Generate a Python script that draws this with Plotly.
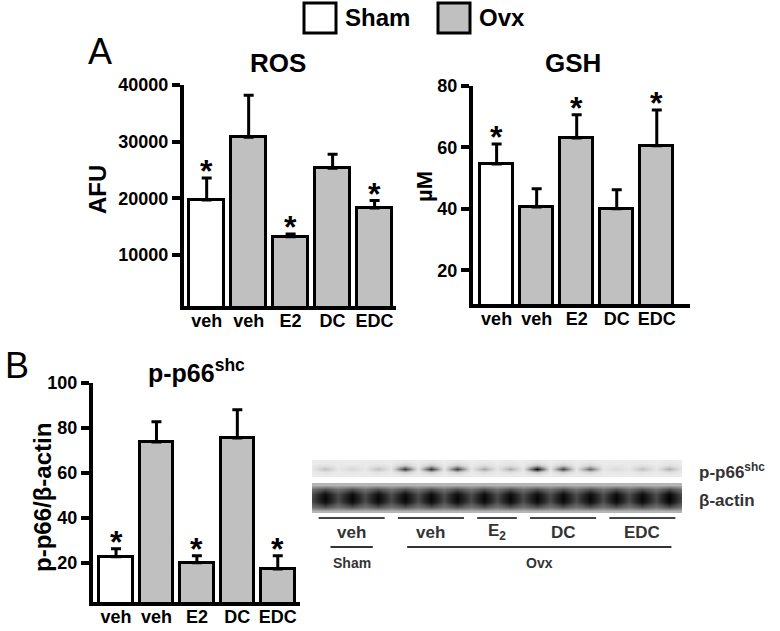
import plotly.graph_objects as go

FONT = "Liberation Sans, Arial, sans-serif"
GREY = "#c0c0c0"

groups = ["veh", "veh", "E2", "DC", "EDC"]
fills = ["white", GREY, GREY, GREY, GREY]

ros = [19700, 30800, 13200, 25300, 18300]
ros_err = [3900, 7400, 500, 2500, 1300]
ros_sig = [True, False, True, False, True]

gsh = [54.6, 40.6, 63.1, 40.0, 60.5]
gsh_err = [6.5, 5.9, 7.5, 6.2, 11.7]
gsh_sig = [True, False, True, False, True]

p66 = [22.8, 73.8, 20.1, 75.6, 17.4]
p66_err = [3.6, 9.0, 3.2, 12.5, 5.9]
p66_sig = [True, False, True, False, True]

# western blot, lane band darkness (0 white .. 1 black)
blot_groups = ["veh", "veh", "E<sub>2</sub>", "DC", "EDC"]
blot_lanes = [3, 3, 2, 3, 3]
p66_bands = [0.36, 0.26, 0.36, 0.82, 0.85, 0.80, 0.46, 0.44, 0.97, 0.78, 0.66, 0.24, 0.36, 0.42]
actin_bands = [0.98, 0.98, 0.98, 0.98, 0.98, 0.98, 0.98, 0.98, 0.98, 0.98, 0.98, 0.98, 0.98, 1.0]

W, H = 780, 631


def fx(p):
    return p / W


def fy(p):
    return 1 - p / H


fig = go.Figure()


def bar_panel(vals, errs, sig, xa, ya):
    x = list(range(len(vals)))
    fig.add_trace(go.Bar(
        x=x, y=vals, width=0.83, base=0,
        marker=dict(color=fills, line=dict(color="black", width=3)),
        error_y=dict(type="data", array=errs, arrayminus=[0] * len(errs),
                     symmetric=False, color="black", thickness=3, width=5),
        xaxis=xa, yaxis=ya, showlegend=False, hoverinfo="y"
    ))
    for i, s in enumerate(sig):
        if s:
            fig.add_annotation(x=i, y=vals[i] + errs[i], text="<b>*</b>",
                               xref=xa, yref=ya, showarrow=False,
                               yanchor="bottom", yshift=-13,
                               font=dict(size=32, color="black", family=FONT))


bar_panel(ros, ros_err, ros_sig, "x", "y")
bar_panel(gsh, gsh_err, gsh_sig, "x2", "y2")
bar_panel(p66, p66_err, p66_sig, "x3", "y3")

# blot strips drawn as smoothed heatmaps
n = len(p66_bands)
bx = [i * 0.5 - 0.5 for i in range(2 * n + 1)]


def strip(bands, bg, gap, rows):
    z = []
    for r in rows:
        row = []
        for k in range(2 * n + 1):
            if k % 2 == 1:
                row.append(bg + (bands[k // 2] - bg) * r)
            else:
                row.append(bg + (gap - bg) * r)
        z.append(row)
    return z


p66_rows = [0.05, 0.25, 1, 0.25, 0.05]
actin_rows = [0, 0.6, 0.95, 1, 0.95, 0.6, 0]

fig.add_trace(go.Heatmap(
    x=bx, y=list(range(len(p66_rows))),
    z=strip(p66_bands, 0.15, 0.18, p66_rows),
    colorscale="Greys", zmin=0, zmax=1, zsmooth="best", showscale=False,
    xaxis="x4", yaxis="y4", hoverinfo="skip"
))
fig.add_trace(go.Heatmap(
    x=bx, y=list(range(len(actin_rows))),
    z=strip(actin_bands, 0.4, 0.78, actin_rows),
    colorscale="Greys", zmin=0, zmax=1, zsmooth="best", showscale=False,
    xaxis="x4", yaxis="y5", hoverinfo="skip"
))

bar_x = dict(showgrid=False, zeroline=False, showline=True, linecolor="black",
             linewidth=4, ticks="", tickmode="array", automargin=False,
             ticklabelstandoff=-5,
             tickvals=list(range(len(groups))), ticktext=["<b>%s</b>" % g for g in groups],
             tickfont=dict(size=18, color="black", family=FONT), fixedrange=True)
bar_y = dict(showgrid=False, zeroline=False, showline=True, linecolor="black",
             linewidth=4, ticks="outside", ticklen=8, tickwidth=4, tickcolor="black",
             automargin=False,
             tickfont=dict(size=18, color="black", family=FONT), fixedrange=True)
hidden = dict(visible=False, fixedrange=True, automargin=False)

fig.update_layout(
    template="none",
    width=W, height=H,
    margin=dict(l=0, r=0, t=0, b=0),
    paper_bgcolor="white", plot_bgcolor="white",
    font=dict(family=FONT, color="black"),
    showlegend=False,
    bargap=0,
    xaxis=dict(bar_x, domain=[fx(184), fx(396)], range=[-0.54, 4.51], anchor="y"),
    yaxis=dict(bar_y, domain=[fy(306), fy(85)], range=[1000, 40000], anchor="x",
               tickvals=[10000, 20000, 30000, 40000],
               ticktext=["<b>10000</b>", "<b>20000</b>", "<b>30000</b>", "<b>40000</b>"]),
    xaxis2=dict(bar_x, domain=[fx(473), fx(690)], range=[-0.59, 4.83], anchor="y2"),
    yaxis2=dict(bar_y, domain=[fy(304), fy(86)], range=[9, 80], anchor="x2",
                tickvals=[20, 40, 60, 80], ticktext=["<b>%d</b>" % v for v in [20, 40, 60, 80]]),
    xaxis3=dict(bar_x, domain=[fx(93), fx(300)], range=[-0.57, 4.55], anchor="y3"),
    yaxis3=dict(bar_y, domain=[fy(602), fy(383)], range=[2.7, 100], anchor="x3",
                tickvals=[20, 40, 60, 80, 100], ticktext=["<b>%d</b>" % v for v in [20, 40, 60, 80, 100]]),
    xaxis4=dict(hidden, domain=[fx(312), fx(682)], range=[-0.5, 13.5], anchor="y4"),
    yaxis4=dict(hidden, domain=[fy(477), fy(460)], range=[-0.5, len(p66_rows) - 0.5], anchor="x4"),
    yaxis5=dict(hidden, domain=[fy(513), fy(483)], range=[-0.5, len(actin_rows) - 0.5], anchor="x4"),
)


# panel labels and titles
def text(x, y, t, size, bold=True, angle=0, color="black", xanchor="center"):
    fig.add_annotation(x=fx(x), y=fy(y), xref="paper", yref="paper",
                       text="<b>%s</b>" % t if bold else t, showarrow=False,
                       textangle=angle, xanchor=xanchor, yanchor="middle",
                       font=dict(size=size, color=color, family=FONT))


text(100, 52, "A", 36, bold=False)
text(17, 366, "B", 36, bold=False)
text(278, 63, "ROS", 26)
text(573, 63, "GSH", 26)
text(196, 371, "p-p66<sup>shc</sup>", 25)
text(97, 190, "AFU", 24, angle=-90)
text(424, 186, "µM", 22, angle=-90)
text(42, 498, "p-p66/β-actin", 24, angle=-90)

# legend boxes
for x0, fill, label in [(304, "white", "Sham"), (438, GREY, "Ovx")]:
    fig.add_shape(type="rect", xref="paper", yref="paper",
                  x0=fx(x0), x1=fx(x0 + 32), y0=fy(33), y1=fy(3),
                  fillcolor=fill, line=dict(color="black", width=3))
    text(x0 + 39, 18, label, 24, xanchor="left")

# blot labels
text(697, 471, "p-p66<sup>shc</sup>", 17, color="#333", xanchor="left")
text(697, 500, "β-actin", 17, color="#333", xanchor="left")

start = 0
for g, k in zip(blot_groups, blot_lanes):
    fig.add_shape(type="line", xref="x4", yref="paper",
                  x0=start - 0.5 + 0.25, x1=start + k - 0.5 - 0.25,
                  y0=fy(518), y1=fy(518),
                  line=dict(color="#444", width=2))
    fig.add_annotation(x=start + (k - 1) / 2, y=fy(532), xref="x4", yref="paper",
                       text="<b>%s</b>" % g, showarrow=False, yanchor="middle",
                       font=dict(size=17, color="#333", family=FONT))
    start += k

for x0, x1, lab in [(0.2, 1.8, "Sham"), (3.1, 13.1, "Ovx")]:
    fig.add_shape(type="line", xref="x4", yref="paper", x0=x0, x1=x1,
                  y0=fy(547), y1=fy(547), line=dict(color="#333", width=2))
    fig.add_annotation(x=(x0 + x1) / 2, y=fy(563), xref="x4", yref="paper",
                       text="<b>%s</b>" % lab, showarrow=False, yanchor="middle",
                       font=dict(size=14, color="#333", family=FONT))

# drop the default 8px body margin so the figure sits at the page corner
fig.write_html("out.html", config={"displayModeBar": False},
               post_script="document.body.style.margin = '0';")
